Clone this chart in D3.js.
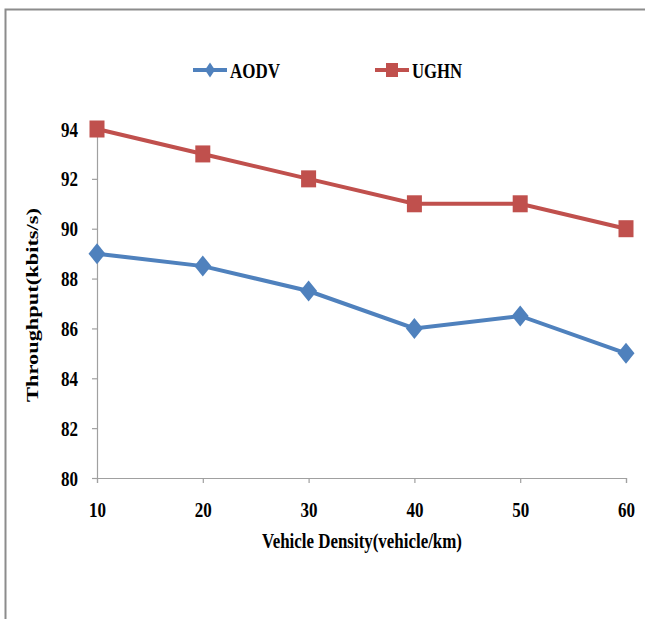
<!DOCTYPE html>
<html><head><meta charset="utf-8">
<script src="https://cdn.jsdelivr.net/npm/d3@7"></script>
<style>body{margin:0;background:#fff}svg{display:block}text{font-family:"Liberation Serif","Times New Roman",serif;font-weight:bold;fill:#000}</style>
</head><body>
<script>
const categories = [10, 20, 30, 40, 50, 60];
const aodv = [89, 88.5, 87.5, 86, 86.5, 85];
const ughn = [94, 93, 92, 91, 91, 90];
const yTicks = [80, 82, 84, 86, 88, 90, 92, 94];
const seriesNames = ["AODV", "UGHN"];
const colors = ["#4F81BD", "#C0504D"];

const W = 645, H = 619;
const svg = d3.select("body").append("svg").attr("width", W).attr("height", H);

// frame
svg.append("path").attr("d", "M5.5,619 L5.5,9.5 L645,9.5").attr("fill","none").attr("stroke","#8c8c8c").attr("stroke-width",2);

const x = d3.scaleLinear().domain([10, 60]).range([97, 626]);
const y = d3.scaleLinear().domain([80, 94]).range([478, 129]);

const xAxis = svg.append("g").attr("transform", "translate(0,478)")
  .call(d3.axisBottom(x).tickValues(categories).tickSize(5).tickPadding(19));
const yAxis = svg.append("g").attr("transform", "translate(97,0)")
  .call(d3.axisLeft(y).tickValues(yTicks).tickSize(5).tickPadding(14));
[xAxis, yAxis].forEach(g => {
  g.select(".domain").attr("stroke", "#a0a0a0").attr("stroke-width", 1.2);
  g.selectAll(".tick line").attr("stroke", "#a0a0a0").attr("stroke-width", 1.2);
  g.selectAll(".tick text").attr("font-size", 21).attr("font-family", '"Liberation Serif",serif')
    .attr("font-weight", "bold").attr("fill", "#000")
    .attr("textLength", 17).attr("lengthAdjust", "spacingAndGlyphs");
});
xAxis.selectAll(".tick text").attr("dy", "0.71em");
yAxis.selectAll(".tick text").attr("dy", "0.34em");

// axis titles
svg.append("text").attr("x", 362).attr("y", 548).attr("text-anchor", "middle")
  .attr("font-size", 21).attr("textLength", 200).attr("lengthAdjust", "spacingAndGlyphs")
  .text("Vehicle Density(vehicle/km)");
svg.append("text").attr("transform", "translate(38,305) rotate(-90)").attr("text-anchor", "middle")
  .attr("font-size", 16).attr("textLength", 194).attr("lengthAdjust", "spacingAndGlyphs")
  .text("Throughput(kbits/s)");

const line = d3.line().x((d, i) => x(categories[i])).y(d => y(d));
const data = [aodv, ughn];

data.forEach((vals, si) => {
  svg.append("path").datum(vals).attr("d", line).attr("fill", "none")
    .attr("stroke", colors[si]).attr("stroke-width", 4);
});
// markers
const diamondPath = (w, h) => `M0,${-h/2}L${w/2},0L0,${h/2}L${-w/2},0Z`;
svg.append("g").selectAll("path").data(aodv).join("path")
  .attr("d", diamondPath(17, 21)).attr("transform", (d, i) => `translate(${x(categories[i])},${y(d)})`)
  .attr("fill", colors[0]);
svg.append("g").selectAll("rect").data(ughn).join("rect")
  .attr("x", (d, i) => x(categories[i]) - 7.5).attr("y", d => y(d) - 8.5)
  .attr("width", 15).attr("height", 17).attr("fill", colors[1]);

// legend
const legendX = [193, 375];
seriesNames.forEach((name, si) => {
  const g = svg.append("g").attr("transform", `translate(${legendX[si]},70)`);
  g.append("line").attr("x1", 0).attr("x2", 34).attr("stroke", colors[si]).attr("stroke-width", 4);
  if (si === 0) {
    g.append("path").attr("d", diamondPath(10, 15)).attr("transform", "translate(17,0)").attr("fill", colors[0]);
  } else {
    g.append("rect").attr("x", 11).attr("y", -7).attr("width", 12).attr("height", 14).attr("fill", colors[1]);
  }
  g.append("text").attr("x", 37).attr("y", 8).attr("font-size", 22)
    .attr("textLength", 50).attr("lengthAdjust", "spacingAndGlyphs").text(name);
});
</script>
</body></html>
